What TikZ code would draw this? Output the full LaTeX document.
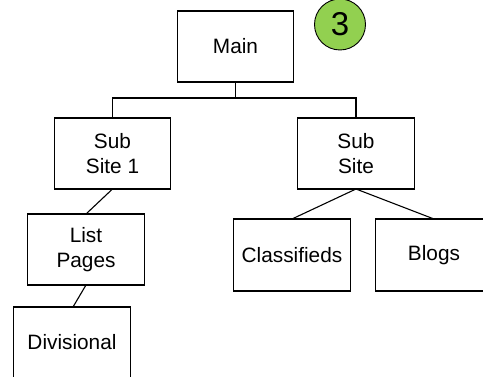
\documentclass[tikz,border=0pt]{standalone}
\usepackage{fontspec}
\setmainfont{Liberation Sans}
\begin{document}
\begin{tikzpicture}[x=1pt,y=-1pt,
  box/.style={draw,line width=1.1pt,minimum width=116.5pt,minimum height=71pt,inner sep=0pt,outer sep=0pt,align=center,font=\fontsize{20.8}{24.5}\selectfont},
  link/.style={line width=1.1pt}]
\useasboundingbox (0,0) rectangle (483,377);
\node[box] (main) at (235.5,46.5) {Main};
\node[box] (s1) at (112.5,153.5) {Sub\\Site 1};
\node[box] (lp) at (86,249.5) {List\\Pages};
\node[box] (dv) at (72,342.5) {Divisional};
\node[box] (s2) at (356,153.5) {Sub\\Site};
\node[box,minimum height=72pt] (cl) at (292,255) {Classifieds};
\node[box,minimum height=72pt] (bl) at (434,255) {Blogs};
\node[circle,draw,line width=0.9pt,fill={rgb,255:red,146;green,208;blue,80},minimum size=51pt,inner sep=0pt,font=\fontsize{33}{33}\selectfont] (num) at (340,24.5) {3};
\coordinate (jn) at (235.5,98);
\draw[link] (main.south) -- (jn) -| (s1.north);
\draw[link] (jn) -| (s2.north);
\draw[link] (s1.south) -- (lp.north);
\draw[link] (lp.south) -- ([xshift=1pt]dv.north);
\draw[link] (s2.south) -- (cl.north);
\draw[link] (s2.south) -- (bl.north);
\end{tikzpicture}
\end{document}
